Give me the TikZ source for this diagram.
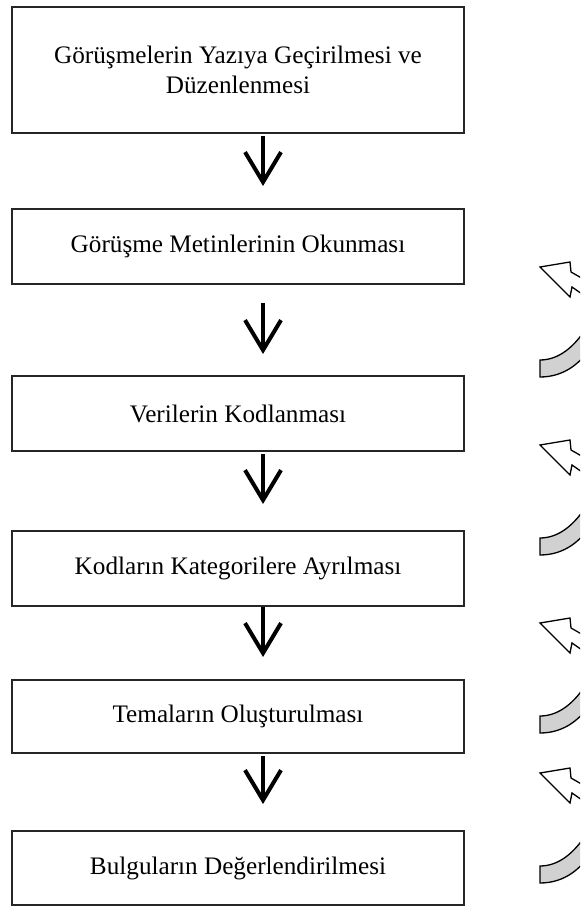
\documentclass[tikz,border=0pt]{standalone}
\usepackage{fontspec}
\setmainfont{Liberation Serif}
\usetikzlibrary{arrows.meta}
\definecolor{bandgray}{rgb}{0.82,0.82,0.82}

\begin{document}
\begin{tikzpicture}[x=0.5pt,y=-0.5pt,
  stepbox/.style={draw=black!85,line width=1pt,minimum width=226pt,align=center,inner sep=0pt,font=\fontsize{12.6}{15}\selectfont},
  flow/.style={line width=2pt,-{Straight Barb[length=15pt,width=18pt,line width=2pt]}}]
\useasboundingbox (0,0) rectangle (580,909);
\coordinate (ax) at (263,0);
\node[stepbox,minimum height=63pt] (b1) at (238,70) {Görüşmelerin Yazıya Geçirilmesi ve\\Düzenlenmesi};
\node[stepbox,minimum height=37.5pt] (b2) at (238,246.5) {Görüşme Metinlerinin Okunması};
\node[stepbox,minimum height=37.5pt] (b3) at (238,413.5) {Verilerin Kodlanması};
\node[stepbox,minimum height=37.5pt] (b4) at (238,568.5) {Kodların Kategorilere Ayrılması};
\node[stepbox,minimum height=36.5pt] (b5) at (238,716.5) {Temaların Oluşturulması};
\node[stepbox,minimum height=37pt] (b6) at (238,868) {Bulguların Değerlendirilmesi};
% down arrows
\foreach \a/\b/\s/\e in {b1/b2/1/11,b2/b3/9/10.5,b3/b4/1/13,b4/b5/0/11,b5/b6/1/13}
  \draw[flow,shorten <=\s pt,shorten >=\e pt] (\a.south -| ax) -- (\b.north -| ax);
% cycle arrows on the right
\begin{scope}
\clip (0,0) rectangle (580,909);
\foreach \dy in {0,178,356,506}{
  \begin{scope}[shift={(0,\dy)}]
  \draw[fill=bandgray,line width=0.65pt] (540,360) -- (540,377) .. controls (565,377) and (582,362) .. (592,345) -- (585,330) .. controls (575,345) and (560,360) .. (540,360) -- cycle;
  \draw[fill=white,line width=0.65pt,line join=miter] (592,284) -- (571,272) -- (570,262) -- (540,267) -- (570,297) -- (572,287) -- (592,301);
  \end{scope}}
\end{scope}
\end{tikzpicture}
\end{document}
